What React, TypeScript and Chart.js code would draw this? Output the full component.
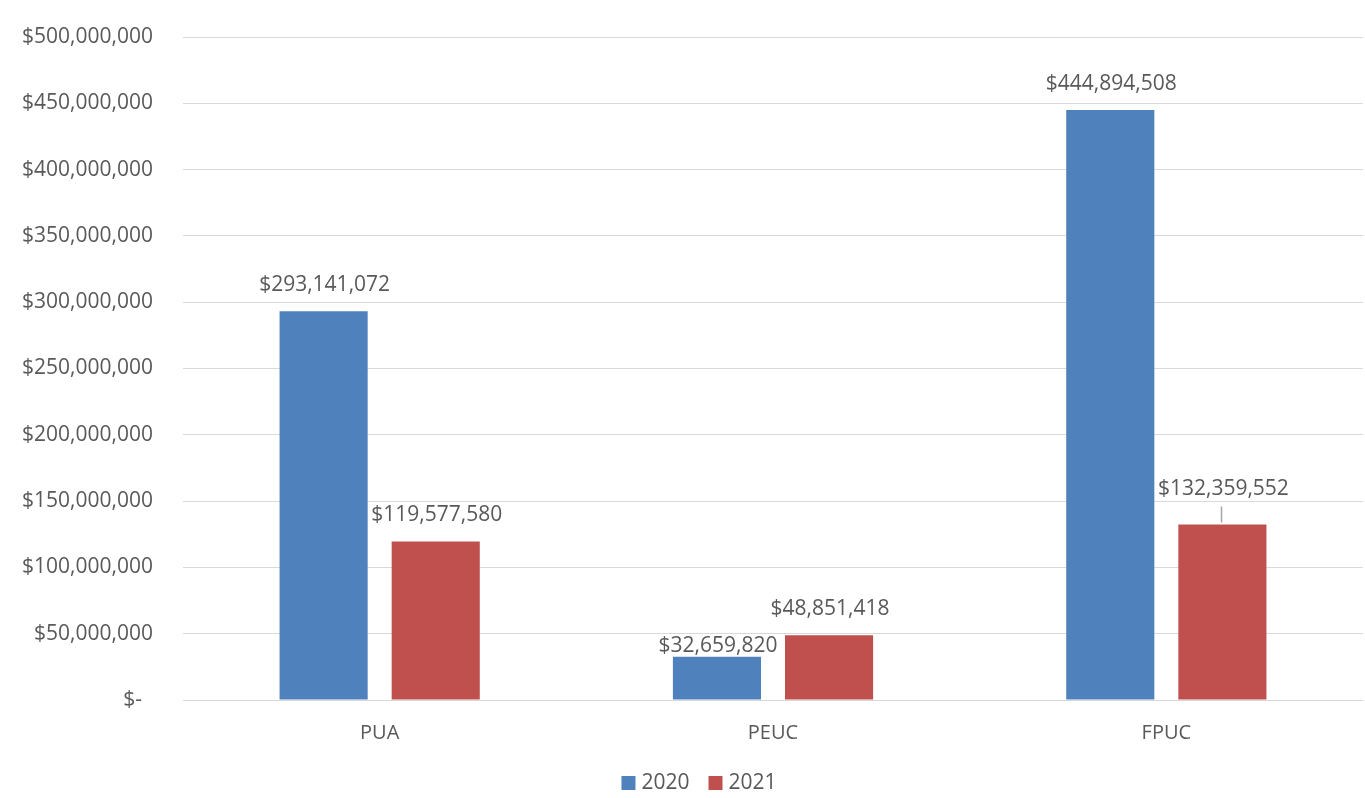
import React, { useEffect, useRef } from "react";
import { Chart, registerables } from "chart.js";

Chart.register(...registerables);

const categories = ["PUA", "PEUC", "FPUC"];
const series2020 = [293141072, 32659820, 444894508];
const series2021 = [119577580, 48851418, 132359552];
const seriesNames = ["2020", "2021"];
const seriesColors = ["#4F81BD", "#C0504D"];
const yTicks = [0, 50000000, 100000000, 150000000, 200000000, 250000000, 300000000, 350000000, 400000000, 450000000, 500000000];

const FONT = "'Open Sans', 'Noto Sans', sans-serif";
const TEXT = "#595959";

const fmt = (v: number) => "$" + v.toLocaleString("en-US");

const labelPlugin = {
  id: "barLabels",
  afterDatasetsDraw(chart: any) {
    const ctx = chart.ctx;
    ctx.save();
    ctx.font = `21px ${FONT}`;
    ctx.fillStyle = TEXT;
    ctx.textAlign = "center";
    ctx.textBaseline = "middle";
    chart.data.datasets.forEach((ds: any, di: number) => {
      const meta = chart.getDatasetMeta(di);
      meta.data.forEach((bar: any, i: number) => {
        let off = 26;
        let leader = false;
        if (di === 0 && i === 1) off = 11;
        if (di === 1 && i === 2) { off = 35; leader = true; }
        const y = bar.y - off;
        ctx.fillText(fmt(ds.data[i]), bar.x + 1, y);
        if (leader) {
          ctx.strokeStyle = "#a6a6a6";
          ctx.lineWidth = 1.5;
          ctx.beginPath();
          ctx.moveTo(Math.round(bar.x) - 0.5, y + 17);
          ctx.lineTo(Math.round(bar.x) - 0.5, bar.y - 2);
          ctx.stroke();
        }
      });
    });
    ctx.restore();
  },
};

const legendPlugin = {
  id: "customLegend",
  afterDraw(chart: any) {
    const ctx = chart.ctx;
    ctx.save();
    ctx.font = `21px ${FONT}`;
    ctx.textBaseline = "middle";
    ctx.textAlign = "left";
    const box = 14;
    const gap = 6;
    const itemGap = 19;
    const items = chart.data.datasets.map((ds: any) => ({
      text: ds.label,
      color: ds.backgroundColor,
      w: box + gap + ctx.measureText(ds.label).width,
    }));
    const total = items.reduce((s: number, it: any) => s + it.w, 0) + itemGap * (items.length - 1);
    let x = 699 - total / 2;
    const cy = 783;
    items.forEach((it: any) => {
      ctx.fillStyle = it.color;
      ctx.fillRect(x, cy - box / 2, box, box);
      ctx.fillStyle = TEXT;
      ctx.fillText(it.text, x + box + gap, cy);
      x += it.w + itemGap;
    });
    ctx.restore();
  },
};

export default function App() {
  const ref = useRef<HTMLCanvasElement>(null);
  useEffect(() => {
    if (!ref.current) return;
    const chart = new Chart(ref.current, {
      type: "bar",
      data: {
        labels: categories,
        datasets: [
          { label: seriesNames[0], data: series2020, backgroundColor: seriesColors[0], categoryPercentage: 0.57, barPercentage: 0.786 },
          { label: seriesNames[1], data: series2021, backgroundColor: seriesColors[1], categoryPercentage: 0.57, barPercentage: 0.786 },
        ],
      },
      options: {
        responsive: false,
        animation: false,
        maintainAspectRatio: false,
        layout: { padding: { top: 37, right: 2, bottom: 0, left: 0 } },
        plugins: {
          legend: { display: false },
          tooltip: { enabled: false },
        },
        scales: {
          x: {
            afterFit: (s: any) => { s.height = 98; s.paddingLeft = 0; s.paddingRight = 0; },
            grid: { display: false },
            border: { display: false },
            ticks: { color: TEXT, font: { size: 20, family: FONT }, padding: 13 },
          },
          y: {
            min: 0,
            max: 500000000,
            afterFit: (s: any) => { s.width = 183; s.paddingTop = 0; s.paddingBottom = 0; },
            afterBuildTicks: (s: any) => { s.ticks = yTicks.map((v) => ({ value: v })); },
            grid: { color: "#d9d9d9", lineWidth: 1, drawTicks: false },
            border: { display: false },
            ticks: {
              color: TEXT,
              font: { size: 21, family: FONT },
              padding: 30,
              callback: (v: any) => (v === 0 ? "$-  " : fmt(Number(v))),
            },
          },
        },
      },
      plugins: [labelPlugin, legendPlugin],
    });
    return () => chart.destroy();
  }, []);
  return (
    <div style={{ position: "fixed", left: 0, top: 0, width: 1365, height: 798, background: "#fff" }}>
      <canvas ref={ref} width={1365} height={798} />
    </div>
  );
}
